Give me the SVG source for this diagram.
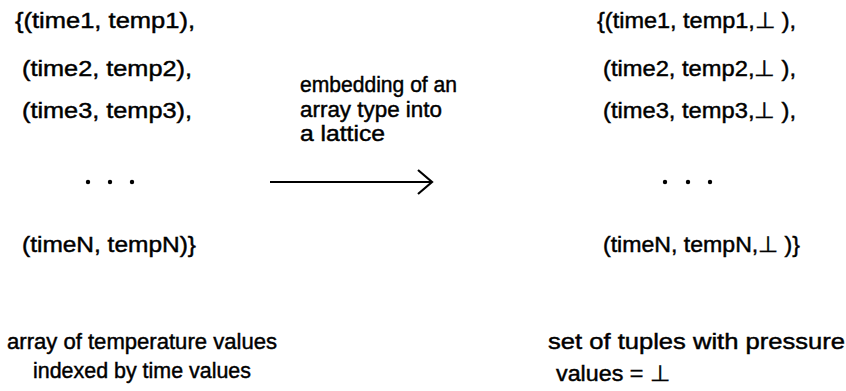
<svg xmlns="http://www.w3.org/2000/svg" width="846" height="391" viewBox="0 0 846 391">
<style>
text{font-family:"Liberation Sans",Arial,sans-serif;font-size:22px;fill:#000;stroke:#000;stroke-width:0.45}
.c{stroke:#000;stroke-width:2.2;fill:none}
</style>
<rect width="846" height="391" fill="#fff"/>
<g id="left-set">
<text x="15" y="28" textLength="180" lengthAdjust="spacingAndGlyphs">{(time1, temp1),</text>
<text x="22" y="76" textLength="170" lengthAdjust="spacingAndGlyphs">(time2, temp2),</text>
<text x="22" y="118" textLength="170" lengthAdjust="spacingAndGlyphs">(time3, temp3),</text>
<circle cx="88" cy="182" r="2.2"/><circle cx="110" cy="182" r="2.2"/><circle cx="132" cy="182" r="2.2"/>
<text x="22" y="252" textLength="174" lengthAdjust="spacingAndGlyphs">(timeN, tempN)}</text>
</g>
<g id="right-set">
<text x="597" y="28" textLength="199" lengthAdjust="spacingAndGlyphs">{(time1, temp1,⊥ ),</text>
<text x="603" y="76" textLength="193" lengthAdjust="spacingAndGlyphs">(time2, temp2,⊥ ),</text>
<text x="603" y="118" textLength="193" lengthAdjust="spacingAndGlyphs">(time3, temp3,⊥ ),</text>
<circle cx="665" cy="182" r="2.2"/><circle cx="688" cy="182" r="2.2"/><circle cx="710" cy="182" r="2.2"/>
<text x="603" y="252" textLength="197" lengthAdjust="spacingAndGlyphs">(timeN, tempN,⊥ )}</text>
</g>
<g id="arrow-label">
<text x="300" y="92" textLength="157" lengthAdjust="spacingAndGlyphs">embedding of an</text>
<text x="300" y="117" textLength="142" lengthAdjust="spacingAndGlyphs">array type into</text>
<text x="300" y="141" textLength="85" lengthAdjust="spacingAndGlyphs">a lattice</text>
</g>
<g id="left-caption">
<text x="7" y="349" textLength="270" lengthAdjust="spacingAndGlyphs">array of temperature values</text>
<text x="33" y="378" textLength="218" lengthAdjust="spacingAndGlyphs">indexed by time values</text>
</g>
<g id="right-caption">
<text x="548" y="349" textLength="297" lengthAdjust="spacingAndGlyphs">set of tuples with pressure</text>
<text x="556" y="381" textLength="114" lengthAdjust="spacingAndGlyphs">values = ⊥</text>
</g>
<g id="connectors">
<line class="c" x1="270" y1="182" x2="432" y2="182"/>
<polyline class="c" points="418,170 432,182 418,194"/>
</g>
</svg>
